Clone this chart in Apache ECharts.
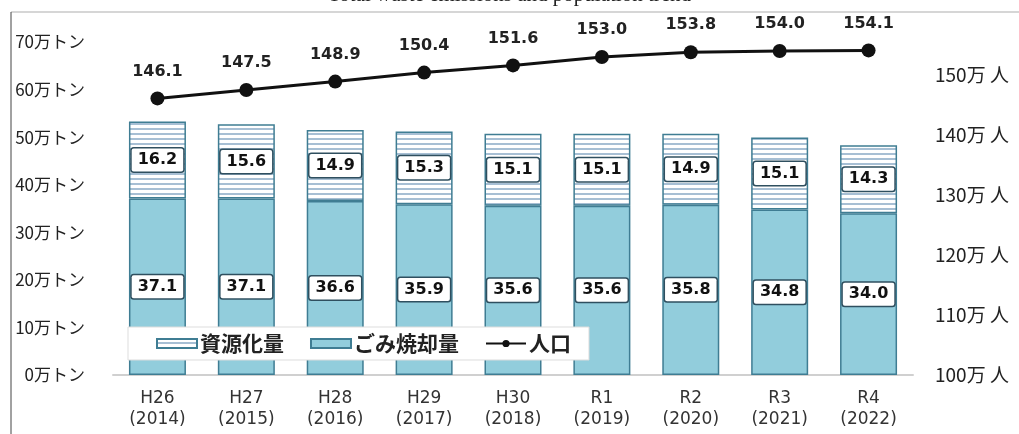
<!DOCTYPE html>
<html><head><meta charset="utf-8">
<script src="https://cdn.jsdelivr.net/npm/echarts@6/dist/echarts.min.js"></script>
<style>html,body{margin:0;padding:0;background:#fff}#c{width:1019px;height:434px}</style>
</head><body><div id="c"></div>
<script>
const categories = ['H26\n(2014)','H27\n(2015)','H28\n(2016)','H29\n(2017)','H30\n(2018)','R1\n(2019)','R2\n(2020)','R3\n(2021)','R4\n(2022)'];
const recycled = [16.2,15.6,14.9,15.3,15.1,15.1,14.9,15.1,14.3];
const incinerated = [37.1,37.1,36.6,35.9,35.6,35.6,35.8,34.8,34.0];
const totals = [53.2,52.7,51.5,51.2,50.7,50.7,50.6,49.9,48.3];
const population = [146.1,147.5,148.9,150.4,151.6,153.0,153.8,154.0,154.1];

const cv = document.createElement('canvas');
cv.width = 8; cv.height = 5;
const cx = cv.getContext('2d');
cx.fillStyle = '#ffffff'; cx.fillRect(0,0,8,5);
cx.fillStyle = '#a7bfd4'; cx.fillRect(0,3,8,2);
const stripe = {image: cv, repeat: 'repeat'};

const fmt = p => Number(p.value).toFixed(1);
const chart = echarts.init(document.getElementById('c'));
const boxLabel = {
  show: true, position: 'inside', color: '#111', fontWeight: 'bold', fontSize: 16,
  fontFamily: 'DejaVu Sans', backgroundColor: '#fff', borderColor: '#2f4f5f', borderWidth: 1.5,
  borderRadius: 2, padding: [4, 6, 3, 6], formatter: fmt
};
chart.setOption({
  animation: false,
  graphic: [
    {type: 'line', shape: {x1: 11, y1: 12, x2: 1019, y2: 12}, style: {stroke: '#c8c8c8', lineWidth: 1.5}},
    {type: 'line', shape: {x1: 11, y1: 12, x2: 11, y2: 434}, style: {stroke: '#444', lineWidth: 1}},
    {type: 'text', left: 'center', top: -15, style: {text: 'Total waste emissions and population trend', font: '21px "Liberation Serif"', fill: '#222'}}
  ],
  legend: {
    left: 128, top: 327, itemGap: 26, itemWidth: 40, itemHeight: 9,
    backgroundColor: '#fff', borderColor: '#ddd', borderWidth: 1, padding: [6, 18, 6, 28],
    textStyle: {fontSize: 21, fontWeight: 'bold', color: '#222', fontFamily: 'Noto Sans CJK JP', padding: [0, 0, 0, -2]},
    data: [{name: '資源化量', icon: 'rect'}, {name: 'ごみ焼却量', icon: 'rect'}, {name: '人口'}]
  },
  grid: {left: 113, right: 106, top: 42, bottom: 59},
  xAxis: {
    type: 'category', data: categories,
    axisLine: {lineStyle: {color: '#d0d0d0', width: 2}}, axisTick: {show: false},
    axisLabel: {fontSize: 17, color: '#333', lineHeight: 21, margin: 13, fontFamily: 'DejaVu Sans'}
  },
  yAxis: [
    {type: 'value', min: 0, max: 70, interval: 10, splitLine: {show: false},
     axisLabel: {formatter: '{value}万トン', fontSize: 17, color: '#222', margin: 28, fontFamily: 'Noto Sans CJK JP'}},
    {type: 'value', min: 100, max: 155.5, interval: 10, splitLine: {show: false},
     axisLabel: {formatter: '{value}万 人', fontSize: 19, color: '#222', margin: 22, showMaxLabel: false, fontFamily: 'Noto Sans CJK JP'}}
  ],
  series: [
    {name: 'ごみ焼却量', type: 'bar', stack: 't', data: incinerated, barWidth: 57, z: 2,
     itemStyle: {color: '#92cddc', borderColor: '#3f7d93', borderWidth: 1.5},
     label: boxLabel},
    {name: '資源化量', type: 'bar', stack: 't', data: recycled, z: 2,
     itemStyle: {color: stripe, borderColor: '#3f7d93', borderWidth: 1.5},
     label: boxLabel},
    {name: '合計', type: 'line', data: totals.map((v, i) => i === totals.length - 1 ?
        {value: v, label: {fontSize: 26, distance: 5}} : v),
     symbol: 'circle', symbolSize: 1, itemStyle: {opacity: 0}, lineStyle: {opacity: 0}, z: 3,
     label: {show: true, position: 'top', distance: 7, fontWeight: 'bold', fontSize: 16, color: '#222', fontFamily: 'DejaVu Sans', formatter: fmt}},
    {name: '人口', type: 'line', yAxisIndex: 1, data: population, symbol: 'circle', symbolSize: 14,
     itemStyle: {color: '#111'}, lineStyle: {color: '#111', width: 3}, z: 4,
     label: {show: true, position: 'top', distance: 12, fontWeight: 'bold', fontSize: 16, color: '#222', fontFamily: 'DejaVu Sans', formatter: fmt}}
  ]
});
</script></body></html>
